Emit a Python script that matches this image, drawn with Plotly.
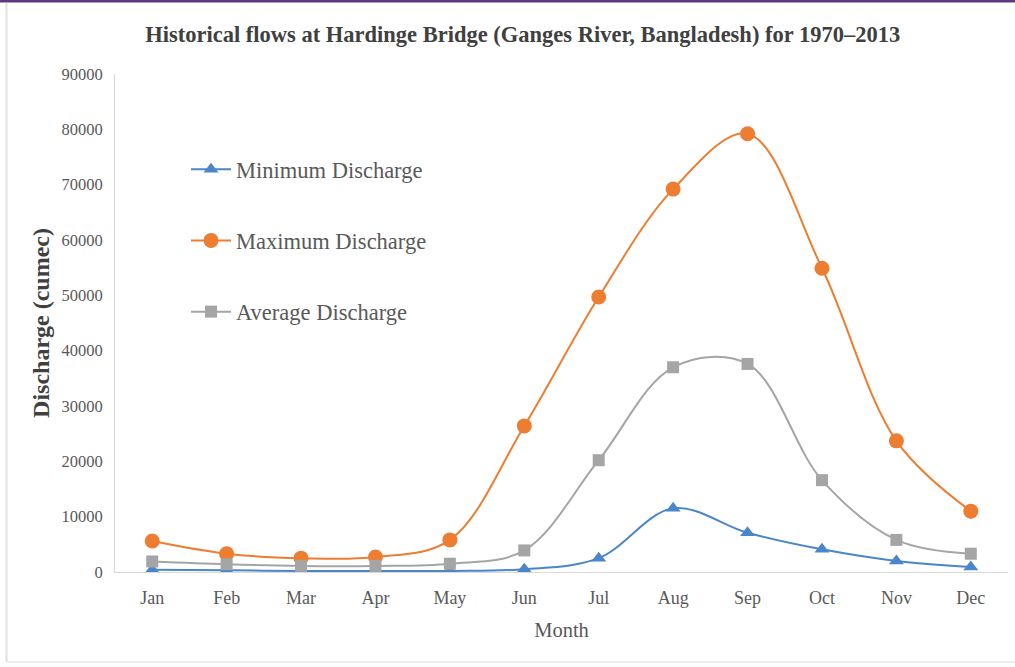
import plotly.graph_objects as go

months = ["Jan", "Feb", "Mar", "Apr", "May", "Jun", "Jul", "Aug", "Sep", "Oct", "Nov", "Dec"]
min_discharge = [400, 300, 200, 200, 200, 500, 2500, 11500, 7100, 4100, 2000, 900]
max_discharge = [5600, 3300, 2500, 2700, 5800, 26400, 49700, 69200, 79200, 54900, 23700, 11000]
avg_discharge = [1900, 1400, 1100, 1100, 1500, 3900, 20200, 37000, 37600, 16600, 5800, 3300]

y_ticks = [0, 10000, 20000, 30000, 40000, 50000, 60000, 70000, 80000, 90000]

W, H = 1015, 667
ML, MR, MT, MB = 115, 7, 74, 95
SERIF = "Liberation Serif"
TEXT_GREY = "#595959"

series = [
    ("Minimum Discharge", min_discharge, "#4A86C8", "triangle-up", 13),
    ("Maximum Discharge", max_discharge, "#ED7D31", "circle", 15),
    ("Average Discharge", avg_discharge, "#A5A5A5", "square", 12),
]

fig = go.Figure()
for i, (name, vals, color, symbol, size) in enumerate(series):
    fig.add_trace(go.Scatter(
        x=months, y=vals, name=name, legendgroup=f"g{i}",
        mode="lines+markers",
        line=dict(color=color, width=2, shape="spline", smoothing=1.0),
        marker=dict(symbol=symbol, size=size, color=color),
    ))


def px_x(px):
    return (px - ML) / (W - ML - MR)


def px_y(py):
    return (H - MB - py) / (H - MT - MB)


fig.update_layout(
    width=W, height=H,
    margin=dict(l=ML, r=MR, t=MT, b=MB),
    paper_bgcolor="white", plot_bgcolor="white",
    title=dict(
        text="<b>Historical flows at Hardinge Bridge (Ganges River, Bangladesh) for 1970–2013</b>",
        x=0.515, xanchor="center", y=1 - 34 / H, yanchor="middle",
        font=dict(family=SERIF, size=22.5, color="#404040"),
    ),
    xaxis=dict(
        type="category", range=[-0.5, 11.5],
        showline=True, linecolor="#D9D9D9", linewidth=1,
        showgrid=False, zeroline=False, ticks="",
        ticklabelstandoff=9,
        tickfont=dict(family=SERIF, size=18, color=TEXT_GREY),
        title=dict(text="Month", font=dict(family=SERIF, size=20.5, color=TEXT_GREY), standoff=16),
    ),
    yaxis=dict(
        range=[0, 90000], tickvals=y_ticks, ticktext=[str(v) for v in y_ticks],
        showline=True, linecolor="#D9D9D9", linewidth=1,
        showgrid=False, zeroline=False, ticks="",
        ticklabelstandoff=8,
        tickfont=dict(family=SERIF, size=16.5, color=TEXT_GREY),
        title=dict(text="<b>Discharge (cumec)</b>", font=dict(family=SERIF, size=24, color="#404040"), standoff=5),
    ),
    legend=dict(
        x=px_x(186), y=px_y(148), xanchor="left", yanchor="top",
        traceorder="grouped", tracegroupgap=39,
        font=dict(family=SERIF, size=22.5, color=TEXT_GREY),
        bgcolor="rgba(0,0,0,0)", itemwidth=40,
    ),
    shapes=[
        dict(type="line", xref="paper", yref="paper",
             x0=px_x(0), x1=px_x(W), y0=px_y(1), y1=px_y(1),
             line=dict(color="#5B3A7E", width=3)),
        dict(type="line", xref="paper", yref="paper",
             x0=px_x(6.5), x1=px_x(6.5), y0=px_y(3), y1=px_y(662),
             line=dict(color="#E2E2E2", width=2)),
        dict(type="line", xref="paper", yref="paper",
             x0=px_x(6.5), x1=px_x(W), y0=px_y(662), y1=px_y(662),
             line=dict(color="#EEEEEE", width=2)),
    ],
)

fig.write_html("out.html")
